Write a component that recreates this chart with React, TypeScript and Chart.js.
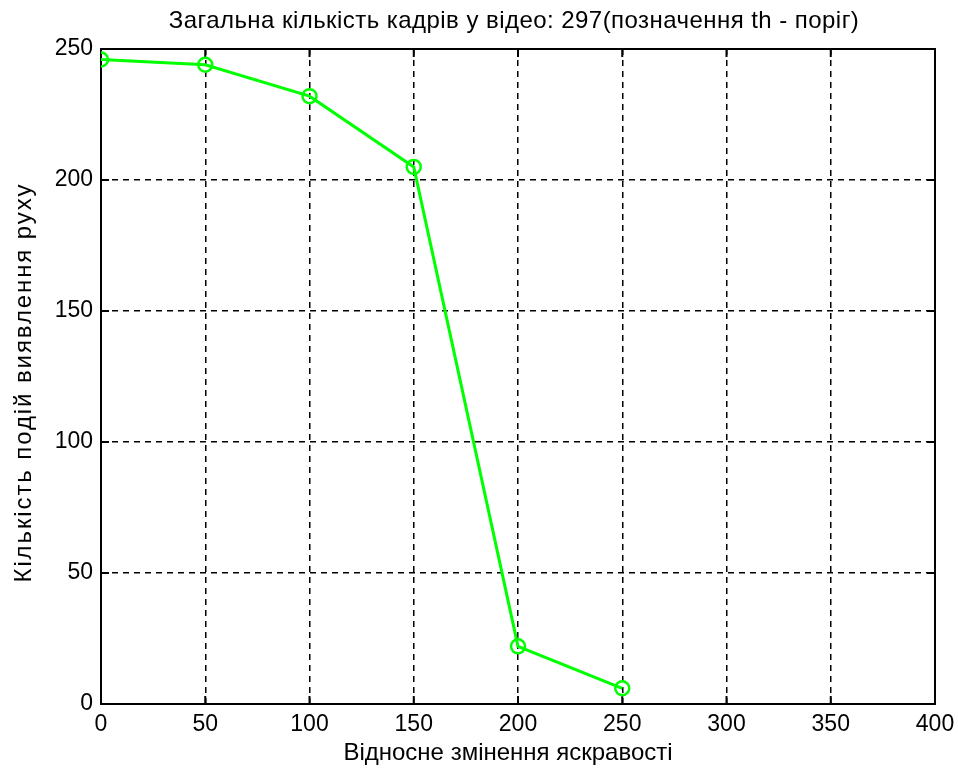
import React, { useEffect, useRef } from "react";
import { Chart, registerables } from "chart.js";

Chart.register(...registerables);

const thresholds = [0, 50, 100, 150, 200, 250];
const detections = [246, 244, 232, 205, 22, 6];
const xTickValues = [0, 50, 100, 150, 200, 250, 300, 350, 400];
const yTickValues = [0, 50, 100, 150, 200, 250];
const titleText = "Загальна кількість кадрів у відео: 297(позначення th - поріг)";
const xTitle = "Відносне змінення яскравості";
const yTitle = "Кількість подій виявлення руху";

const FONT = "Liberation Sans, Arial, sans-serif";
const FS = 23;

const frame = {
  id: "matlabFrame",
  beforeDatasetsDraw(chart: any) {
    const { ctx, chartArea: a, scales } = chart;
    ctx.save();
    ctx.strokeStyle = "#000";
    ctx.lineWidth = 2;
    ctx.setLineDash([]);
    ctx.strokeRect(a.left, a.top, a.right - a.left, a.bottom - a.top);
    const tl = 8;
    ctx.beginPath();
    xTickValues.forEach((v) => {
      const px = scales.x.getPixelForValue(v);
      ctx.moveTo(px, a.bottom);
      ctx.lineTo(px, a.bottom - tl);
      ctx.moveTo(px, a.top);
      ctx.lineTo(px, a.top + tl);
    });
    yTickValues.forEach((v) => {
      const py = scales.y.getPixelForValue(v);
      ctx.moveTo(a.left, py);
      ctx.lineTo(a.left + tl, py);
      ctx.moveTo(a.right, py);
      ctx.lineTo(a.right - tl, py);
    });
    ctx.stroke();
    ctx.restore();
  },
  afterDraw(chart: any) {
    const { ctx, chartArea: a } = chart;
    const cx = (a.left + a.right) / 2;
    ctx.save();
    ctx.fillStyle = "#000";
    ctx.textAlign = "center";
    ctx.textBaseline = "alphabetic";
    ctx.font = `24px ${FONT}`;
    (ctx as any).letterSpacing = "0.45px";
    ctx.fillText(titleText, cx - 4, 28);
    (ctx as any).letterSpacing = "0px";
    ctx.font = `24px ${FONT}`;
    ctx.fillText(xTitle, cx - 10, 760);
    ctx.translate(31, (a.top + a.bottom) / 2 + 6);
    ctx.rotate(-Math.PI / 2);
    ctx.font = `24px ${FONT}`;
    (ctx as any).letterSpacing = "1.9px";
    ctx.fillText(yTitle, 0, 0);
    ctx.restore();
  },
};

export default function App() {
  const ref = useRef<HTMLCanvasElement | null>(null);
  useEffect(() => {
    if (!ref.current) return;
    const chart = new Chart(ref.current, {
      type: "line",
      data: {
        datasets: [
          {
            data: thresholds.map((x, i) => ({ x, y: detections[i] })),
            borderColor: "#00ff00",
            borderWidth: 3,
            pointStyle: "circle",
            pointRadius: 7,
            pointBorderWidth: 2.5,
            pointBorderColor: "#00ff00",
            pointBackgroundColor: "rgba(0,0,0,0)",
            tension: 0,
          },
        ],
      },
      options: {
        animation: false,
        responsive: false,
        layout: { padding: { top: 49, right: 23, left: 0, bottom: 0 } },
        plugins: {
          legend: { display: false },
          tooltip: { enabled: false },
          title: { display: false },
        },
        scales: {
          x: {
            type: "linear",
            min: 0,
            max: 400,
            afterFit: (s: any) => {
              s.height = 71;
              s.paddingLeft = 0;
              s.paddingRight = 0;
            },
            afterBuildTicks: (s: any) => {
              s.ticks = xTickValues.map((v) => ({ value: v }));
            },
            ticks: {
              color: "#000",
              font: { family: FONT, size: FS },
              padding: 7,
              maxRotation: 0,
            },
            grid: {
              color: "#000",
              lineWidth: 1.5,
              drawTicks: false,
              tickLength: 0,
            },
            border: { display: false, dash: [6, 5] },
          },
          y: {
            type: "linear",
            min: 0,
            max: 250,
            afterFit: (s: any) => {
              s.width = 101;
              s.paddingTop = 0;
              s.paddingBottom = 0;
            },
            afterBuildTicks: (s: any) => {
              s.ticks = yTickValues.map((v) => ({ value: v }));
            },
            ticks: {
              color: "#000",
              font: { family: FONT, size: FS },
              padding: 8,
            },
            grid: {
              color: "#000",
              lineWidth: 1.5,
              drawTicks: false,
              tickLength: 0,
            },
            border: { display: false, dash: [6, 5] },
          },
        },
      },
      plugins: [frame],
    } as any);
    return () => chart.destroy();
  }, []);
  return (
    <div style={{ position: "absolute", left: 0, top: 0, width: 958, height: 775, background: "#fff" }}>
      <canvas ref={ref} width={958} height={775} />
    </div>
  );
}
